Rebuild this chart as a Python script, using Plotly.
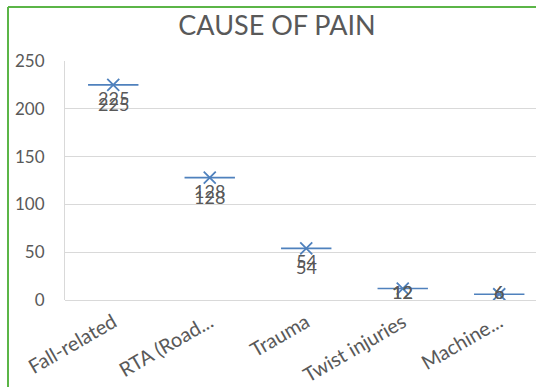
import plotly.graph_objects as go

# Causes of pain and number of cases
categories = ["Fall-related", "RTA (Road...", "Trauma", "Twist injuries", "Machine..."]
cases = [225, 128, 54, 12, 6]
y_ticks = [0, 50, 100, 150, 200, 250]

BLUE = "#4F81BD"
GREY_TEXT = "#595959"
GRID = "#D9D9D9"
FONT = "Lato, Open Sans, sans-serif"

W, H = 536, 387
M_L, M_R, M_T, M_B = 65, 0, 61, 87
plot_h = H - M_T - M_B
px_per_unit = plot_h / 250

fig = go.Figure()

# wide horizontal dash marker
fig.add_trace(go.Scatter(
    x=categories, y=cases, mode="markers",
    marker=dict(symbol="line-ew", size=36, line=dict(color=BLUE, width=1.6)),
    hoverinfo="skip", showlegend=False,
))
# cross marker
fig.add_trace(go.Scatter(
    x=categories, y=cases, mode="markers",
    marker=dict(symbol="x-thin", size=12, line=dict(color=BLUE, width=1.8)),
    showlegend=False,
))

# two stacked value labels per point, kept inside the plot area near the baseline
annotations = []
for cat, v in zip(categories, cases):
    for offset in (-13, -19):
        shift = max(offset, 8 - v * px_per_unit)
        annotations.append(dict(
            x=cat, y=v, xref="x", yref="y", text=str(v), showarrow=False,
            yshift=shift, font=dict(family=FONT, size=18, color=GREY_TEXT),
        ))

# green frame on the left and top edges
frame_x = (8 - M_L) / (W - M_L - M_R)
frame_y = 1 + (M_T - 7) / plot_h
shapes = [
    dict(type="line", xref="paper", yref="paper", x0=frame_x, x1=frame_x,
         y0=-M_B / plot_h - 0.1, y1=frame_y, line=dict(color="#5BB547", width=2)),
    dict(type="line", xref="paper", yref="paper", x0=frame_x, x1=1.05,
         y0=frame_y, y1=frame_y, line=dict(color="#5BB547", width=2)),
]

fig.update_layout(
    width=W, height=H,
    margin=dict(l=M_L, r=M_R, t=M_T, b=M_B, autoexpand=False),
    paper_bgcolor="white", plot_bgcolor="white",
    title=dict(text="CAUSE OF PAIN", x=277 / W, xanchor="center",
               y=1 - 26 / H, yanchor="middle",
               font=dict(family=FONT, size=27, color=GREY_TEXT)),
    xaxis=dict(
        type="category", range=[-0.5, 4.381], showgrid=False, automargin=False,
        showline=False, ticks="", tickangle=-30, ticklabelstandoff=6,
        tickfont=dict(family=FONT, size=20, color=GREY_TEXT),
    ),
    yaxis=dict(
        range=[0, 250], tickvals=y_ticks, showgrid=True, gridcolor=GRID,
        gridwidth=1, zeroline=True, zerolinecolor=GRID, zerolinewidth=1,
        showline=True, linecolor=GRID, linewidth=1, ticks="", automargin=False,
        ticklabelstandoff=16,
        tickfont=dict(family=FONT, size=17, color=GREY_TEXT),
    ),
    annotations=annotations,
    shapes=shapes,
)

fig.write_html("out.html")
